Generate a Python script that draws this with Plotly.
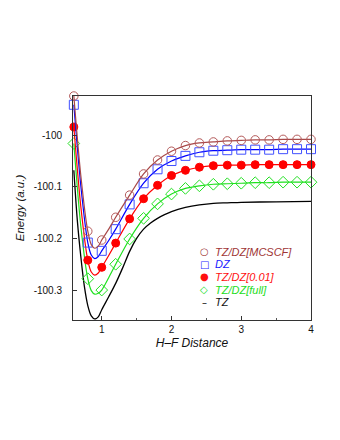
import plotly.graph_objects as go

# ── Données ───────────────────────────────────────────────────────
X_MARK = [0.6, 0.8, 1.0, 1.2, 1.4, 1.6, 1.8, 2.0, 2.2, 2.4, 2.6, 2.8, 3.0, 3.2, 3.4, 3.6, 3.8, 4.0]

MCSCF_MARK = [-99.924, -100.186, -100.203, -100.159, -100.116, -100.075, -100.048, -100.031, -100.020,
              -100.015, -100.013, -100.011, -100.010, -100.009, -100.009, -100.008, -100.008, -100.008]
DZ_MARK = [-99.941, -100.208, -100.224, -100.182, -100.134, -100.093, -100.066, -100.050, -100.040,
           -100.033, -100.030, -100.029, -100.028, -100.028, -100.028, -100.027, -100.027, -100.027]
P01_MARK = [-99.984, -100.242, -100.256, -100.209, -100.162, -100.123, -100.097, -100.078, -100.068,
            -100.062, -100.059, -100.058, -100.058, -100.057, -100.057, -100.057, -100.057, -100.057]
FULL_MARK = [-100.016, -100.278, -100.300, -100.250, -100.201, -100.161, -100.133, -100.114, -100.103,
             -100.098, -100.095, -100.094, -100.093, -100.092, -100.092, -100.091, -100.091, -100.091]

# courbes continues : points supplémentaires dans le puits
X_WELL = [0.6, 0.7, 0.8, 0.85, 0.9, 0.95, 1.0, 1.1]
MCSCF_WELL = [-99.924, -100.078, -100.186, -100.212, -100.219, -100.215, -100.203, -100.182]
DZ_WELL = [-99.941, -100.098, -100.208, -100.232, -100.239, -100.235, -100.224, -100.204]
P01_WELL = [-99.984, -100.138, -100.242, -100.265, -100.271, -100.267, -100.256, -100.233]
FULL_WELL = [-100.016, -100.176, -100.278, -100.301, -100.308, -100.306, -100.300, -100.276]

X_TZ = [0.6, 0.65, 0.7, 0.75, 0.8, 0.85, 0.9, 0.95, 1.0, 1.1, 1.2, 1.3, 1.4, 1.5, 1.6, 1.7,
        1.8, 1.9, 2.0, 2.2, 2.4, 2.6, 2.8, 3.0, 3.5, 4.0]
TZ = [-100.068, -100.165, -100.235, -100.292, -100.330, -100.350, -100.356, -100.352, -100.338,
      -100.313, -100.287, -100.257, -100.225, -100.200, -100.182, -100.170, -100.161, -100.154,
      -100.148, -100.140, -100.135, -100.132, -100.131, -100.130, -100.129, -100.128]

Y_TICKS = [-100.0, -100.1, -100.2, -100.3]
Y_TICKTEXT = ['-100', '-100.1', '-100.2', '-100.3']
X_TICKS = [1, 2, 3, 4]

LEG_LABELS = ['TZ/DZ[MCSCF]', 'DZ', 'TZ/DZ[0.01]', 'TZ/DZ[full]', 'TZ']
LEG_GLYPHS = ['○', '□', '●', '◇', '–']
LEG_COLORS = ['#a03535', '#1a1aff', '#ff1010', '#22dd22', '#111111']

FONT = 'Liberation Sans'


def _merge(x_well, y_well, x_mark, y_mark):
    """Puits détaillé + points réguliers au-delà."""
    xs = list(x_well) + [x for x in x_mark if x > x_well[-1]]
    ys = list(y_well) + [y for x, y in zip(x_mark, y_mark) if x > x_well[-1]]
    return xs, ys


SERIES = [
    # (puits, marques, couleur ligne, couleur marque, symbole, taille)
    (MCSCF_WELL, MCSCF_MARK, '#a84848', '#b45a5a', 'circle-open', 8.5),
    (DZ_WELL, DZ_MARK, '#0000ff', '#4050ff', 'square-open', 9),
    (P01_WELL, P01_MARK, '#ff0000', '#ff0000', 'circle', 8),
    (FULL_WELL, FULL_MARK, '#1ee01e', '#22e022', 'diamond-open', 9),
]

fig = go.Figure()
fig.add_trace(go.Scatter(x=X_TZ, y=TZ, mode='lines',
                         line=dict(color='black', width=1.3, shape='spline', smoothing=0.8),
                         showlegend=False, cliponaxis=False))
for well, mark, lc, mc, sym, sz in reversed(SERIES):
    xs, ys = _merge(X_WELL, well, X_MARK, mark)
    fig.add_trace(go.Scatter(x=xs, y=ys, mode='lines',
                             line=dict(color=lc, width=1.2, shape='spline', smoothing=0.8),
                             showlegend=False, cliponaxis=False))
    fig.add_trace(go.Scatter(x=X_MARK, y=mark, mode='markers',
                             marker=dict(symbol=sym, size=sz, color=mc, line=dict(color=mc, width=1)),
                             showlegend=False, cliponaxis=False))

# la page ajoute 8 px de marge : on décale la zone de tracé
OFF = 8
L, T, W, H = 71 - OFF, 96 - OFF, 240, 224

# légende façon Mathematica
LEG_Y = [251.7, 264.3, 276.9, 289.5, 302.1]
for lab, gl, col, py in zip(LEG_LABELS, LEG_GLYPHS, LEG_COLORS, LEG_Y):
    yp = (320 - py) / H
    fig.add_annotation(x=(203.5 - 71) / W, y=yp, xref='paper', yref='paper', text=gl,
                       showarrow=False, xanchor='center', yanchor='middle',
                       font=dict(family='DejaVu Sans', size=10, color=col))
    fig.add_annotation(x=(212 - 71) / W, y=yp, xref='paper', yref='paper', text=f'<i>{lab}</i>',
                       showarrow=False, xanchor='left', yanchor='middle',
                       font=dict(family=FONT, size=11, color=col))

axis_common = dict(showgrid=False, zeroline=False, showline=True, mirror=True, linecolor='#333',
                   linewidth=1, ticks='inside', ticklen=4, tickcolor='#333',
                   tickfont=dict(family=FONT, size=10, color='#111'))
fig.update_layout(
    width=340, height=440, margin=dict(t=T, b=440 - T - H, l=L, r=340 - L - W),
    paper_bgcolor='white', plot_bgcolor='white', showlegend=False,
    xaxis=dict(range=[0.588, 4.0], tickvals=X_TICKS,
               minor=dict(dtick=0.5, ticks='inside', ticklen=2, tickcolor='#555'),
               title=dict(text='<i>H–F Distance</i>', font=dict(family=FONT, size=12, color='#111'), standoff=4),
               **axis_common),
    yaxis=dict(range=[-100.358, -99.924], tickvals=Y_TICKS, ticktext=Y_TICKTEXT,
               title=dict(text='<i>Energy (a.u.)</i>', font=dict(family=FONT, size=11.5, color='#111'), standoff=6),
               ticklabelstandoff=8,
               **axis_common),
)

fig.write_html('out.html')
